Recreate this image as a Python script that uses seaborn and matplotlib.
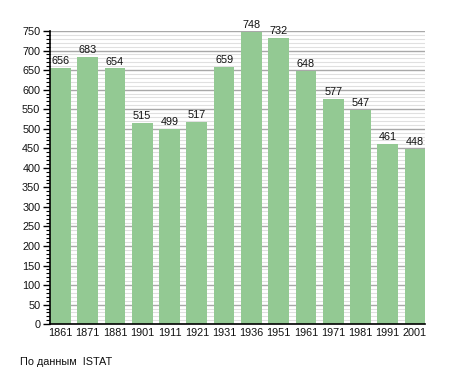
import pandas as pd
import matplotlib.pyplot as plt
import seaborn as sns
from matplotlib.ticker import MultipleLocator

# Data
years = ["1861", "1871", "1881", "1901", "1911", "1921", "1931",
         "1936", "1951", "1961", "1971", "1981", "1991", "2001"]
population = [656, 683, 654, 515, 499, 517, 659,
              748, 732, 648, 577, 547, 461, 448]

df = pd.DataFrame({"year": years, "population": population})

sns.set_style("white")
plt.rcParams["font.family"] = ["Liberation Sans", "DejaVu Sans"]

fig = plt.figure(figsize=(4.55, 3.73), dpi=100)
ax = fig.add_axes([0.110, 0.131, 0.825, 0.786])

sns.barplot(data=df, x="year", y="population", color="#93c993",
            saturation=1, width=0.76, linewidth=0, edgecolor="none", ax=ax)
for p in ax.patches:
    p.set_zorder(3)

# bar labels
for i, v in enumerate(population):
    ax.text(i, v + 5, str(v), ha="center", va="bottom", fontsize=7.8,
            color="#111111", zorder=4)

ax.set_ylim(0, 750)
ax.set_xlim(-0.38, len(years) - 1 + 0.38)
ax.yaxis.set_major_locator(MultipleLocator(50))
ax.yaxis.set_minor_locator(MultipleLocator(10))
ax.set_axisbelow(True)
ax.grid(which="major", axis="y", color="#a8a8a8", linewidth=1.0)
ax.grid(which="minor", axis="y", color="#e0e0e0", linewidth=0.8)

for s in ["top", "right"]:
    ax.spines[s].set_visible(False)
ax.spines["left"].set_color("black")
ax.spines["bottom"].set_color("black")
ax.spines["left"].set_linewidth(1.2)
ax.spines["bottom"].set_linewidth(1.2)
ax.spines["left"].set_zorder(5)
ax.spines["bottom"].set_zorder(5)

ax.tick_params(axis="y", which="major", length=5, width=1, color="black",
               labelsize=7.8, labelcolor="#111111", pad=2, left=True)
ax.tick_params(axis="y", which="minor", length=3, width=0.8, color="black",
               left=True)
ax.tick_params(axis="x", length=0, labelsize=7.8, labelcolor="#111111", pad=3)
ax.set_xlabel("")
ax.set_ylabel("")

fig.text(20 / 455, 1 - 362 / 373, "По данным  ISTAT", fontsize=7.8,
         ha="left", va="center", color="#111111")

fig.savefig("out.png", dpi=100)
plt.close()
